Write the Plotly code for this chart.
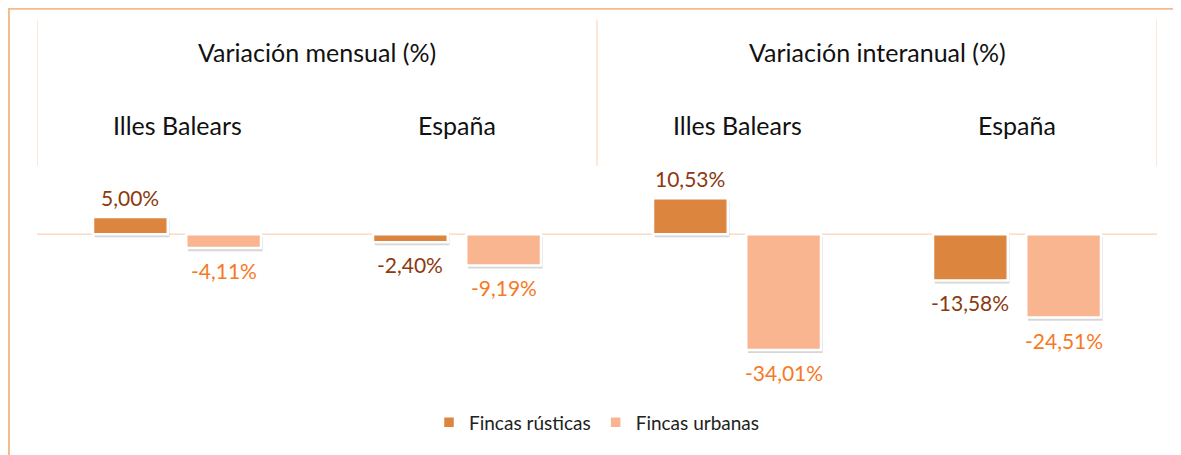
import plotly.graph_objects as go

groups = ["Variación mensual (%)", "Variación interanual (%)"]
regions = ["Illes Balears", "España", "Illes Balears", "España"]
series_names = ["Fincas rústicas", "Fincas urbanas"]
rusticas = [5.00, -2.40, 10.53, -13.58]
urbanas = [-4.11, -9.19, -34.01, -24.51]

def fmt(v):
    return f"{v:.2f}".replace(".", ",") + "%"

colors = ["#DC853F", "#F8B590"]
text_colors = ["#8B3A10", "#F7791F"]
offsets = [-0.300, 0.033]
width = 0.267
xs = list(range(len(regions)))

fig = go.Figure()
FONT = "Lato"

# shadows
for vals, off in zip([rusticas, urbanas], offsets):
    fig.add_trace(go.Bar(
        x=xs, y=vals, base=[-0.9] * len(vals), offset=off + 0.006, width=width,
        marker=dict(color="rgba(0,0,0,0.16)", line=dict(width=0)),
        showlegend=False, hoverinfo="skip"))

for name, vals, c, tc, off in zip(series_names, [rusticas, urbanas], colors, text_colors, offsets):
    fig.add_trace(go.Bar(
        x=xs, y=vals, name=name, offset=off, width=width,
        marker=dict(color=c, line=dict(color="white", width=2.5)),
        cliponaxis=False))
    for xi, v in zip(xs, vals):
        fig.add_annotation(
            x=xi + off + width / 2, y=v, xref="x", yref="y", text=fmt(v), showarrow=False,
            yanchor="bottom" if v >= 0 else "top", yshift=5 if v >= 0 else -8,
            font=dict(color=tc, size=21, family=FONT))

# header annotations
for gi, g in enumerate(groups):
    fig.add_annotation(x=gi * 2 + 0.5, y=1.524, xref="x", yref="paper", text=g,
                       yanchor="middle", showarrow=False,
                       font=dict(size=25, color="#111", family=FONT))
for i, r in enumerate(regions):
    fig.add_annotation(x=i, y=1.188, xref="x", yref="paper", text=r,
                       yanchor="middle", showarrow=False,
                       font=dict(size=25, color="#111", family=FONT))

# divider lines
for xv in [-0.5, 1.5, 3.5]:
    fig.add_shape(type="line", x0=xv, x1=xv, y0=1.0, y1=1.671, xref="x", yref="paper",
                  line=dict(color="#FBD9C2", width=1.2))
# zero line
fig.add_shape(type="line", x0=-0.5, x1=3.5, y0=0, y1=0, xref="x", yref="y",
              line=dict(color="#F9D3B8", width=1.2), layer="below")
# outer frame
fig.add_shape(type="rect", x0=-0.0253, x1=1.2, y0=-0.8, y1=1.722, xref="paper", yref="paper",
              line=dict(color="#F6B989", width=2.5))

fig.update_layout(
    width=1181, height=455,
    margin=dict(l=29, r=32, t=158, b=79.4),
    paper_bgcolor="white", plot_bgcolor="white",
    barmode="overlay",
    font=dict(family=FONT),
    xaxis=dict(range=[-0.5, 3.5], showticklabels=False, showgrid=False, zeroline=False, showline=False),
    yaxis=dict(range=[-44, 20], showticklabels=False, showgrid=False, zeroline=False, showline=False),
    legend=dict(orientation="h", x=0.5, xanchor="center", y=-0.176, yanchor="middle",
                font=dict(size=19, color="#222", family=FONT), traceorder="normal",
                itemwidth=30),
    showlegend=True,
)

fig.write_html("out.html")
